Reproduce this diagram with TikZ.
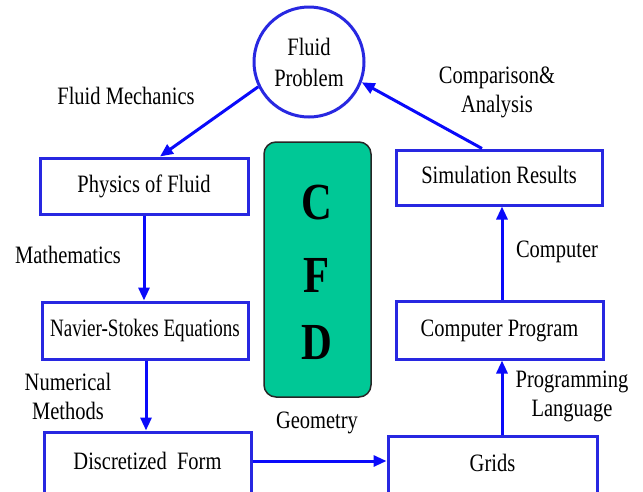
\documentclass[tikz,border=0pt]{standalone}
\usepackage{fontspec}
\setmainfont{Liberation Serif}[FakeStretch=0.82]
\usetikzlibrary{arrows.meta}
\definecolor{boxblue}{RGB}{40,40,225}
\definecolor{arrblue}{RGB}{10,10,250}
\definecolor{cfdgreen}{RGB}{0,200,150}
\tikzset{
  txt/.style={font=\fontsize{25}{29}\selectfont, inner sep=0pt, align=center, text height=17pt, text depth=5pt},
  lbl/.style={font=\fontsize{25}{29}\selectfont, inner sep=0pt, align=center},
  stepbox/.style={draw=boxblue, line width=3pt, rectangle, inner sep=0pt, txt},
  flow/.style={draw=arrblue, line width=3pt, -{Triangle[length=13pt,width=11pt]}},
}
\begin{document}
\begin{tikzpicture}[x=1pt,y=-1pt]
\useasboundingbox (0,0) rectangle (643,491);
% circle
\node[draw=boxblue, line width=3pt, circle, minimum size=110pt, lbl, font=\fontsize{25}{31}\selectfont] (circ) at (309,62) {Fluid\\Problem};
% left column
\node[stepbox, minimum width=208pt, minimum height=56pt] (phys) at (144,186) {Physics of Fluid};
\node[stepbox, minimum width=206pt, minimum height=57pt] (nav) at (145,330.5) {\scalebox{0.93}[1]{Navier-Stokes Equations}};
\node[stepbox, minimum width=207pt, minimum height=62pt] (disc) at (147.5,463) {Discretized\ \ Form};
% right column
\node[stepbox, minimum width=209pt, minimum height=58pt] (grids) at (492.5,465) {Grids};
\node[stepbox, minimum width=207pt, minimum height=58pt] (comp) at (499.5,330) {Computer Program};
\node[stepbox, minimum width=206pt, minimum height=55pt] (sim) at (499,177.5) {Simulation Results};
% CFD box
\node[draw=black!85, line width=1.5pt, fill=cfdgreen, rounded corners=12pt, minimum width=107pt, minimum height=255pt, inner sep=0pt] (cfd) at (317.5,269.5) {};
\node[font=\fontsize{52}{52}\selectfont\bfseries, inner sep=0pt] (lc) at (317,203) {C};
\node[font=\fontsize{52}{52}\selectfont\bfseries, inner sep=0pt] (lf) at (317,275) {F};
\node[font=\fontsize{52}{52}\selectfont\bfseries, inner sep=0pt] (ld) at (317,343) {D};
% labels
\node[lbl] (l1) at (126,96) {Fluid Mechanics};
\node[lbl] (l2) at (497,92) {Comparison\&\\Analysis};
\node[lbl] (l3) at (68,255) {Mathematics};
\node[lbl] (l4) at (68,396) {Numerical\\Methods};
\node[lbl] (l5) at (317,423) {Geometry};
\node[lbl] (l6) at (557,252) {Computer};
\node[lbl] (l7) at (572,396) {Programming\\Language};
% connectors
\draw[flow] (circ.206) -- ([xshift=16pt]phys.north);
\draw[flow] (phys.south) -- (phys.south |- nav.north);
\draw[flow] ([xshift=1pt]nav.south) -- ([xshift=1pt]nav.south |- disc.north);
\draw[flow] ([yshift=2pt]disc.east) -- ([yshift=2pt]disc.east -| grids.west);
\draw[flow] ([xshift=2.5pt]comp.south |- grids.north) -- ([xshift=2.5pt]comp.south);
\draw[flow] ([xshift=2.5pt]comp.north) -- ([xshift=2.5pt]comp.north |- sim.south);
\draw[flow] ([xshift=-17pt]sim.north) -- (circ.339);
\end{tikzpicture}
\end{document}
